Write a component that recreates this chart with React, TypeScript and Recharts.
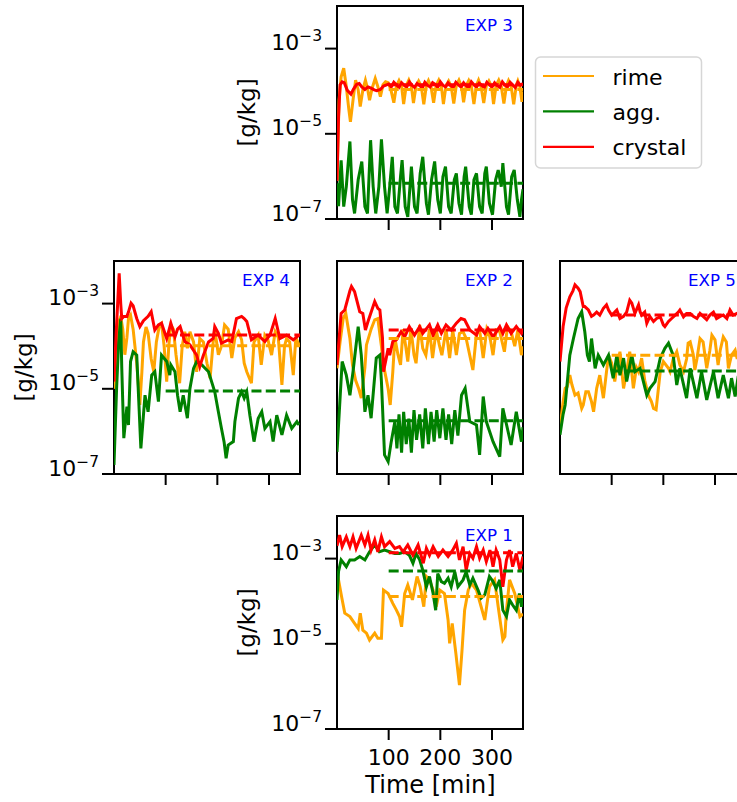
import React from 'react';
import { LineChart, Line, XAxis, YAxis, ReferenceArea } from 'recharts';

type Pt = [number, number];

// [time (min), log10 of mixing ratio (g/kg)]
const seriesNames = ['rime', 'agg.', 'crystal'];
const xTicks = [100, 200, 300];
const yTicks = [1e-7, 1e-5, 1e-3];

const exp3Rime: Pt[] = [[0,-6.1],[4,-4.21],[8,-3.66],[13,-3.46],[18,-3.89],[23,-4.44],[26,-4.72],[31,-4.21],[36,-3.74],[41,-3.97],[45,-4.36],[50,-3.97],[55,-3.74],[59,-3.93],[63,-4.21],[68,-3.93],[74,-3.7],[79,-3.89],[84,-4.13],[89,-3.85],[94,-3.78],[99,-3.8],[104,-3.95],[110,-4.27],[115,-3.88],[120,-3.75],[125,-3.88],[129,-4.3],[134,-3.87],[139,-3.74],[144,-3.89],[148,-4.28],[153,-3.88],[158,-3.76],[163,-3.88],[168,-4.31],[173,-3.86],[177,-3.75],[182,-3.9],[187,-4.27],[192,-3.86],[197,-3.74],[202,-3.88],[206,-4.3],[211,-3.87],[216,-3.76],[221,-3.89],[226,-4.29],[231,-3.86],[236,-3.74],[241,-3.89],[245,-4.26],[250,-3.87],[255,-3.75],[260,-3.88],[265,-4.3],[270,-3.86],[274,-3.74],[279,-3.9],[284,-4.28],[289,-3.87],[294,-3.76],[299,-3.88],[303,-4.3],[308,-3.86],[313,-3.74],[318,-3.89],[323,-4.29],[328,-3.87],[332,-3.75],[337,-3.88],[342,-4.31],[347,-3.86],[350,-3.76],[354,-3.9],[358,-4.25],[360,-4.0]];
const exp3Agg: Pt[] = [[0,-6.16],[3,-6.7],[8,-5.62],[13,-6.71],[18,-6.24],[25,-5.18],[30,-6.55],[34,-6.87],[41,-6.08],[48,-5.65],[54,-6.71],[59,-6.87],[65,-5.15],[70,-6.24],[75,-6.87],[81,-6.24],[86,-5.13],[92,-6.24],[97,-6.87],[102,-6.24],[107,-5.54],[112,-6.71],[117,-6.87],[123,-6.0],[126,-5.62],[132,-6.71],[137,-6.95],[144,-5.77],[150,-6.71],[155,-6.87],[161,-5.93],[166,-5.54],[173,-6.63],[177,-6.9],[183,-6.08],[189,-5.65],[195,-6.55],[200,-6.87],[205,-6.01],[210,-5.77],[216,-6.71],[221,-6.87],[227,-6.08],[231,-5.93],[236,-6.63],[241,-6.9],[246,-6.01],[249,-5.77],[256,-6.71],[260,-6.9],[265,-6.08],[270,-5.93],[276,-6.71],[281,-6.87],[286,-5.93],[289,-5.77],[295,-6.63],[301,-6.9],[307,-6.08],[312,-5.85],[318,-6.24],[321,-5.69],[328,-6.71],[332,-6.9],[338,-6.01],[343,-5.85],[349,-6.55],[354,-6.95],[357,-6.55],[360,-6.3]];
const exp3Crystal: Pt[] = [[0,-6.1],[3,-4.6],[6,-3.85],[10,-3.78],[14,-3.8],[20,-3.98],[27,-4.07],[32,-3.95],[38,-3.84],[43,-3.82],[48,-3.9],[54,-3.96],[60,-3.9],[66,-3.93],[72,-3.97],[77,-3.99],[84,-3.96],[90,-3.88],[96,-3.85],[100,-3.83],[105,-3.9],[110,-3.79],[115,-3.85],[120,-3.91],[125,-3.8],[130,-3.86],[135,-3.9],[140,-3.78],[145,-3.86],[150,-3.91],[155,-3.82],[160,-3.87],[165,-3.92],[170,-3.79],[175,-3.86],[180,-3.9],[185,-3.8],[190,-3.84],[195,-3.91],[200,-3.78],[205,-3.86],[210,-3.9],[215,-3.8],[220,-3.87],[225,-3.91],[230,-3.79],[235,-3.85],[240,-3.9],[245,-3.8],[250,-3.87],[255,-3.92],[260,-3.78],[265,-3.85],[270,-3.9],[275,-3.81],[280,-3.86],[285,-3.91],[290,-3.79],[295,-3.85],[300,-3.9],[305,-3.8],[310,-3.87],[315,-3.91],[320,-3.78],[325,-3.86],[330,-3.9],[335,-3.79],[340,-3.85],[345,-3.91],[350,-3.79],[355,-3.86],[360,-3.82]];
const exp3Means = [-3.96, -6.16, -3.85];

const exp4Rime: Pt[] = [[0,-5.0],[5,-4.2],[10,-3.4],[13,-3.31],[17,-3.6],[21,-4.2],[25,-3.8],[28,-3.35],[32,-3.27],[37,-3.6],[44,-4.4],[50,-5.38],[54,-4.6],[57,-3.9],[62,-3.55],[66,-3.7],[72,-4.3],[77,-4.6],[82,-3.9],[88,-3.5],[92,-3.46],[97,-4.0],[102,-4.83],[106,-4.0],[110,-3.5],[115,-3.6],[120,-4.2],[127,-4.87],[132,-4.0],[137,-3.66],[142,-4.05],[147,-3.66],[154,-3.9],[160,-4.6],[166,-3.82],[173,-3.9],[180,-4.4],[186,-4.75],[192,-3.9],[195,-3.6],[202,-4.2],[208,-4.0],[214,-3.5],[221,-3.6],[228,-4.28],[234,-3.8],[241,-3.66],[247,-3.85],[252,-4.4],[257,-4.6],[266,-4.87],[271,-3.9],[279,-3.74],[285,-4.44],[292,-3.74],[298,-3.85],[305,-4.21],[312,-3.66],[318,-3.8],[325,-4.91],[330,-4.0],[334,-3.82],[340,-3.9],[347,-4.68],[352,-3.8],[358,-3.97]];
const exp4Agg: Pt[] = [[0,-6.79],[5,-5.0],[9,-3.9],[13,-3.35],[15,-4.5],[19,-6.16],[25,-5.42],[28,-5.85],[32,-4.36],[37,-4.13],[44,-4.21],[52,-6.4],[60,-5.15],[66,-5.54],[73,-4.68],[79,-4.6],[86,-5.3],[92,-4.21],[102,-4.36],[108,-4.68],[110,-4.44],[118,-4.6],[123,-5.15],[128,-5.54],[134,-5.15],[142,-5.69],[147,-4.99],[154,-4.52],[160,-4.36],[170,-4.44],[183,-4.6],[195,-5.07],[202,-5.54],[208,-5.93],[213,-6.24],[217,-6.63],[221,-6.32],[231,-6.24],[234,-5.77],[241,-5.22],[247,-5.07],[252,-5.22],[257,-5.07],[263,-5.62],[271,-6.24],[279,-5.7],[286,-5.54],[292,-5.93],[302,-5.77],[308,-6.24],[315,-5.62],[325,-6.08],[334,-5.62],[344,-5.93],[354,-5.77],[358,-5.85]];
const exp4Crystal: Pt[] = [[0,-4.83],[5,-3.5],[10,-2.29],[13,-3.0],[15,-3.35],[19,-3.3],[25,-3.3],[28,-3.2],[33,-2.99],[37,-3.05],[44,-3.35],[50,-3.54],[57,-3.4],[66,-3.3],[72,-3.19],[79,-3.62],[86,-3.5],[92,-3.46],[102,-3.82],[110,-3.46],[118,-3.78],[123,-3.6],[128,-3.54],[137,-3.89],[147,-3.97],[154,-4.1],[160,-4.21],[166,-4.48],[173,-4.21],[183,-3.9],[192,-3.82],[195,-3.54],[202,-3.7],[208,-3.93],[221,-3.85],[228,-3.89],[237,-3.35],[247,-3.3],[252,-3.35],[257,-3.42],[266,-3.85],[279,-3.74],[292,-3.89],[302,-3.74],[312,-3.35],[321,-3.82],[334,-3.74],[347,-3.85],[358,-3.74]];
const exp4Means = [-3.99, -5.05, -3.74];

const exp2Rime: Pt[] = [[0,-4.52],[6,-3.9],[12,-3.35],[17,-3.23],[25,-3.82],[30,-4.44],[36,-4.8],[42,-5.0],[47,-5.22],[54,-4.5],[57,-3.97],[66,-3.6],[73,-3.38],[79,-3.35],[86,-4.0],[90,-4.44],[95,-4.75],[99,-5.0],[103,-5.38],[108,-4.6],[112,-3.8],[118,-4.2],[123,-4.44],[128,-3.6],[133,-4.0],[137,-4.36],[143,-3.58],[149,-4.2],[153,-4.4],[160,-3.5],[166,-4.05],[172,-4.21],[179,-3.6],[185,-4.28],[192,-3.62],[198,-3.97],[203,-4.21],[211,-3.6],[218,-4.28],[224,-3.62],[231,-4.21],[237,-3.7],[244,-3.66],[250,-3.82],[263,-4.56],[270,-3.7],[276,-3.62],[283,-4.28],[290,-3.6],[296,-3.78],[302,-4.21],[308,-3.62],[315,-3.66],[324,-4.13],[330,-3.54],[337,-3.66],[344,-4.0],[350,-3.62],[357,-4.21],[360,-4.0]];
const exp2Agg: Pt[] = [[0,-6.48],[10,-4.36],[18,-4.68],[25,-5.15],[31,-4.6],[41,-3.54],[47,-4.21],[54,-5.54],[60,-5.15],[66,-5.69],[76,-4.28],[83,-4.21],[86,-4.83],[92,-6.55],[99,-6.71],[105,-6.24],[112,-5.77],[116,-6.4],[120,-5.6],[125,-6.5],[129,-5.54],[134,-6.3],[139,-5.7],[144,-6.5],[149,-5.5],[154,-6.2],[160,-5.6],[166,-6.4],[171,-5.46],[177,-6.3],[182,-5.54],[188,-6.24],[193,-5.5],[199,-6.16],[205,-5.46],[211,-6.2],[216,-5.6],[222,-6.3],[228,-5.5],[234,-6.1],[241,-5.15],[248,-4.99],[257,-5.77],[270,-5.85],[276,-6.55],[283,-5.18],[289,-5.77],[302,-6.24],[315,-6.59],[321,-5.46],[337,-6.32],[347,-5.54],[357,-6.24],[360,-5.9]];
const exp2Crystal: Pt[] = [[0,-4.44],[8,-3.23],[15,-3.15],[25,-2.7],[28,-2.6],[34,-2.72],[44,-3.19],[50,-3.23],[55,-3.62],[60,-3.42],[73,-2.95],[79,-3.11],[83,-3.15],[88,-3.8],[90,-4.6],[95,-4.3],[99,-4.05],[102,-4.21],[108,-3.89],[115,-3.85],[124,-3.66],[131,-3.78],[140,-3.54],[150,-3.74],[160,-3.54],[166,-3.7],[179,-3.5],[186,-3.74],[195,-3.5],[202,-3.7],[211,-3.5],[221,-3.62],[231,-3.46],[240,-3.35],[247,-3.38],[257,-3.62],[270,-3.74],[276,-3.54],[286,-3.7],[292,-3.58],[302,-3.78],[315,-3.54],[321,-3.7],[328,-3.5],[337,-3.7],[347,-3.54],[357,-3.7],[360,-3.62]];
const exp2Means = [-3.82, -5.75, -3.62];

const exp5Rime: Pt[] = [[0,-5.93],[6,-5.3],[10,-4.99],[14,-4.95],[19,-4.68],[23,-4.9],[29,-5.15],[35,-5.1],[42,-5.46],[45,-5.38],[50,-5.07],[55,-5.07],[61,-5.3],[65,-5.54],[71,-4.99],[77,-4.68],[84,-5.22],[90,-4.6],[94,-4.21],[100,-4.4],[106,-4.83],[110,-4.5],[116,-4.13],[123,-4.99],[129,-4.6],[135,-4.13],[142,-4.99],[148,-4.5],[152,-4.6],[158,-4.28],[164,-4.8],[171,-5.15],[177,-5.3],[181,-5.46],[186,-5.49],[194,-4.6],[200,-4.36],[210,-4.52],[213,-4.6],[219,-4.3],[226,-4.13],[232,-4.44],[239,-4.6],[245,-4.3],[248,-3.93],[252,-3.9],[258,-4.2],[261,-4.56],[265,-4.3],[271,-3.82],[277,-3.9],[284,-4.52],[290,-4.1],[294,-3.74],[300,-3.85],[306,-4.44],[310,-4.1],[316,-3.78],[322,-3.9],[326,-4.52],[332,-4.21],[339,-4.09],[343,-4.3],[350,-4.0],[360,-4.2]];
const exp5Agg: Pt[] = [[0,-6.08],[6,-5.6],[10,-5.38],[19,-4.21],[26,-3.82],[35,-3.35],[42,-3.19],[48,-3.66],[53,-4.21],[57,-4.36],[61,-3.82],[68,-4.52],[74,-4.21],[84,-4.44],[94,-4.21],[103,-4.75],[110,-4.21],[116,-4.68],[123,-4.28],[129,-4.83],[139,-4.21],[145,-4.6],[155,-4.52],[168,-5.15],[174,-4.99],[184,-4.83],[194,-4.28],[203,-4.05],[210,-3.93],[219,-4.21],[226,-4.91],[232,-4.52],[245,-5.22],[252,-4.52],[265,-5.22],[274,-4.6],[284,-5.26],[297,-4.6],[306,-5.22],[316,-4.68],[326,-5.22],[332,-4.75],[339,-5.18],[345,-4.7],[352,-5.2],[360,-4.8]];
const exp5Crystal: Pt[] = [[0,-4.36],[6,-3.54],[12,-3.1],[19,-2.84],[25,-2.7],[29,-2.56],[35,-2.64],[39,-2.72],[45,-3.07],[48,-3.07],[55,-3.15],[61,-3.3],[65,-3.27],[71,-3.2],[77,-3.27],[84,-3.11],[90,-3.03],[94,-3.15],[100,-3.27],[106,-3.2],[110,-3.15],[116,-3.35],[123,-3.3],[129,-3.2],[135,-2.92],[139,-2.99],[145,-3.23],[152,-3.03],[155,-3.19],[158,-3.27],[164,-3.2],[168,-3.46],[174,-3.3],[181,-3.42],[187,-3.35],[194,-3.31],[200,-3.5],[203,-3.54],[210,-3.42],[216,-3.35],[223,-3.27],[229,-3.2],[232,-3.15],[239,-3.31],[245,-3.23],[252,-3.23],[258,-3.3],[265,-3.35],[271,-3.23],[277,-3.3],[284,-3.38],[290,-3.27],[297,-3.2],[303,-3.35],[310,-3.3],[316,-3.27],[323,-3.35],[329,-3.15],[335,-3.27],[343,-3.23],[350,-3.3],[360,-3.25]];
const exp5Means = [-4.21, -4.58, -3.27];

const exp1Rime: Pt[] = [[0,-3.6],[3,-3.5],[9,-3.9],[15,-4.28],[25,-4.36],[34,-4.52],[41,-4.64],[45,-4.28],[50,-4.68],[57,-4.75],[63,-4.91],[73,-4.75],[79,-4.87],[86,-4.87],[90,-3.74],[99,-3.82],[108,-4.05],[115,-4.21],[121,-4.36],[125,-4.6],[131,-3.82],[137,-3.62],[146,-3.97],[155,-3.42],[161,-3.66],[168,-4.13],[173,-3.42],[179,-3.5],[186,-3.74],[192,-4.13],[199,-3.74],[208,-3.82],[215,-4.44],[218,-4.99],[223,-4.52],[230,-5.22],[237,-5.97],[242,-5.15],[247,-4.21],[254,-3.74],[260,-3.58],[270,-3.74],[279,-4.13],[286,-4.44],[295,-3.66],[305,-3.5],[312,-4.13],[321,-4.91],[325,-4.83],[328,-4.21],[334,-3.5],[344,-3.82],[354,-4.36],[360,-4.3]];
const exp1Agg: Pt[] = [[0,-3.97],[3,-3.3],[8,-3.03],[18,-3.19],[25,-3.03],[34,-3.03],[44,-2.95],[54,-3.03],[63,-2.84],[73,-2.68],[82,-2.84],[92,-2.8],[102,-2.84],[112,-2.88],[121,-2.88],[131,-2.84],[140,-2.92],[147,-3.11],[153,-2.88],[160,-3.03],[166,-3.27],[173,-3.66],[179,-3.42],[186,-3.82],[191,-4.21],[195,-3.35],[202,-3.54],[208,-3.58],[215,-3.46],[221,-3.66],[228,-3.31],[234,-3.66],[244,-3.5],[250,-3.31],[257,-3.62],[263,-3.46],[273,-3.74],[279,-3.93],[286,-3.85],[295,-3.42],[302,-3.54],[308,-3.7],[315,-3.5],[321,-4.21],[328,-4.36],[334,-3.97],[340,-4.09],[347,-4.21],[353,-3.82],[357,-4.13],[360,-3.9]];
const exp1Crystal: Pt[] = [[0,-2.7],[5,-2.45],[10,-2.72],[18,-2.49],[25,-2.72],[31,-2.49],[37,-2.76],[47,-2.45],[54,-2.68],[60,-2.45],[66,-2.8],[73,-2.56],[79,-2.84],[86,-2.49],[92,-2.72],[102,-2.6],[112,-2.76],[121,-2.72],[128,-2.84],[137,-2.68],[147,-2.92],[157,-2.68],[167,-3.11],[173,-2.76],[179,-2.92],[186,-2.72],[196,-2.95],[205,-2.8],[215,-2.95],[224,-2.8],[231,-2.64],[237,-3.03],[244,-2.72],[250,-3.27],[257,-2.88],[263,-2.99],[270,-2.72],[276,-2.99],[283,-2.8],[289,-3.07],[296,-2.8],[302,-3.19],[308,-2.8],[315,-3.03],[321,-3.66],[328,-3.03],[334,-2.8],[340,-3.19],[347,-2.88],[354,-3.27],[360,-2.95]];
const exp1Means = [-3.89, -3.29, -2.86];

const COLORS = ['#FFA500', '#008000', '#FF0000'];
const FONT = '"DejaVu Sans", sans-serif';
const PW = 186;
const PH = 213;
const YAW = 100;
const MT = 10;
const MR = 10;
const XAH = 50;

const toData = (pts: Pt[]) => pts.map(([t, l]) => ({ t, v: Math.pow(10, l) }));
const meanData = (m: number) => [{ t: 100, v: Math.pow(10, m) }, { t: 360, v: Math.pow(10, m) }];

const YTick = (props: any) => {
  const { x, y, payload } = props;
  const e = Math.round(Math.log10(payload.value));
  return (
    <text x={x} y={y + 1.5} textAnchor="end" fontSize={22} fontFamily={FONT} fill="#000">
      10<tspan dy={-9} fontSize={15.5}>{'\u2212' + Math.abs(e)}</tspan>
    </text>
  );
};
const XTick = (props: any) => {
  const { x, y, payload } = props;
  return (
    <text x={x} y={y + 25} textAnchor="middle" fontSize={22} fontFamily={FONT} fill="#000">
      {payload.value}
    </text>
  );
};
const Empty = () => <g />;

type PanelProps = {
  left: number; top: number; series: Pt[][]; means: number[];
  yLabels: boolean; xLabels: boolean;
};

const Panel = ({ left, top, series, means, yLabels, xLabels }: PanelProps) => (
  <div style={{ position: 'absolute', left: left - YAW, top: top - MT }}>
    <LineChart width={YAW + PW + MR} height={MT + PH + XAH} margin={{ top: MT, right: MR, bottom: 0, left: 0 }}>
      <XAxis dataKey="t" type="number" domain={[0, 360]} ticks={xTicks} allowDataOverflow
        axisLine={false} stroke="#000" tickLine={{ stroke: '#000', strokeWidth: 2 }} tickSize={11} tickMargin={0}
        height={XAH} tick={xLabels ? <XTick /> : <Empty />} interval={0} />
      <YAxis type="number" scale="log" domain={[1e-7, 1e-2]} ticks={yTicks} allowDataOverflow
        axisLine={false} stroke="#000" width={YAW} interval={0}
        tickLine={yLabels ? { stroke: '#000', strokeWidth: 2 } : false} tickSize={12} tickMargin={3}
        tick={yLabels ? <YTick /> : <Empty />} />
      {series.map((s, i) => (
        <Line key={seriesNames[i]} data={toData(s)} dataKey="v" type="linear" stroke={COLORS[i]}
          strokeWidth={3} dot={false} activeDot={false} isAnimationActive={false} />
      ))}
      {means.map((m, i) => (
        <Line key={'m' + i} data={meanData(m)} dataKey="v" type="linear" stroke={COLORS[i]}
          strokeWidth={3} strokeDasharray="10 4.3" dot={false} activeDot={false} isAnimationActive={false} />
      ))}
      <ReferenceArea x1={0} x2={360} y1={1e-7} y2={1e-2} fill="none" stroke="#000" strokeWidth={2} ifOverflow="visible" />
    </LineChart>
  </div>
);

const panels = [
  { title: 'EXP 3', left: 337, top: 6, series: [exp3Rime, exp3Agg, exp3Crystal], means: exp3Means, yLabels: true, xLabels: false },
  { title: 'EXP 4', left: 114, top: 261, series: [exp4Rime, exp4Agg, exp4Crystal], means: exp4Means, yLabels: true, xLabels: false },
  { title: 'EXP 2', left: 337, top: 261, series: [exp2Rime, exp2Agg, exp2Crystal], means: exp2Means, yLabels: false, xLabels: false },
  { title: 'EXP 5', left: 560, top: 261, series: [exp5Rime, exp5Agg, exp5Crystal], means: exp5Means, yLabels: false, xLabels: false },
  { title: 'EXP 1', left: 337, top: 516, series: [exp1Rime, exp1Agg, exp1Crystal], means: exp1Means, yLabels: true, xLabels: true },
];

export default function App() {
  return (
    <div style={{ position: 'absolute', left: 0, top: 0, width: 737, height: 802, overflow: 'hidden', background: '#fff' }}>
      {panels.map((p) => (
        <Panel key={p.title} left={p.left} top={p.top} series={p.series} means={p.means} yLabels={p.yLabels} xLabels={p.xLabels} />
      ))}
      <svg width={737} height={802} style={{ position: 'absolute', left: 0, top: 0, pointerEvents: 'none' }} fontFamily={FONT}>
        {panels.map((p) => (
          <text key={p.title} x={p.left + PW - 10} y={p.top + 25} textAnchor="end" fontSize={16.7} fill="#0000FF">{p.title}</text>
        ))}
        {panels.filter((p) => p.yLabels).map((p) => (
          <text key={'yl' + p.title} x={p.left - 82} y={p.top + PH / 2} textAnchor="middle" fontSize={23} fill="#000"
            transform={`rotate(-90 ${p.left - 82} ${p.top + PH / 2})`}>[g/kg]</text>
        ))}
        <text x={430.5} y={793} textAnchor="middle" fontSize={24} fill="#000">Time [min]</text>
        <g>
          <rect x={535.5} y={57} width={166} height={111} rx={5} ry={5} fill="#fff" stroke="#d6d6d6" strokeWidth={1.5} />
          {seriesNames.map((n, i) => (
            <g key={n}>
              <line x1={543} x2={594} y1={76 + i * 35.4} y2={76 + i * 35.4} stroke={COLORS[i]} strokeWidth={2.2} />
              <text x={612.5} y={84.5 + i * 35.4} fontSize={22} fill="#000">{n}</text>
            </g>
          ))}
        </g>
      </svg>
    </div>
  );
}
